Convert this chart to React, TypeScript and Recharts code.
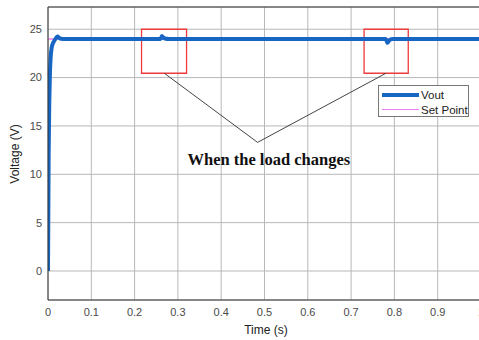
import React from 'react';
import {
  LineChart, Line, XAxis, YAxis, CartesianGrid, ReferenceArea, ReferenceLine, ReferenceDot, Label,
} from 'recharts';

// simulation output
const voutTime = [0, 0.0015, 0.003, 0.0045, 0.006, 0.0085, 0.011, 0.0145, 0.018, 0.022, 0.026, 0.03, 0.04, 0.1, 0.2, 0.26, 0.263, 0.266, 0.27, 0.28, 0.5, 0.78, 0.784, 0.788, 0.795, 0.9, 1.0];
const voutValues = [0, 12, 17.5, 20.5, 22, 23.1, 23.5, 23.8, 24.05, 24.25, 24.1, 24.02, 24, 24, 24, 24, 24.3, 24.15, 24.05, 24, 24, 24, 23.6, 23.85, 24, 24, 24];
const setPointTime = [0, 1];
const setPointValues = [24, 24];

const xTicks = [0, 0.1, 0.2, 0.3, 0.4, 0.5, 0.6, 0.7, 0.8, 0.9, 1];
const yTicks = [0, 5, 10, 15, 20, 25];

// where the load steps happen (boxes) and where the callout points to
const loadBoxes = [
  { x1: 0.216, x2: 0.32 },
  { x1: 0.73, x2: 0.832 },
];
const boxLow = 20.45;
const boxHigh = 25;
const calloutFrom = [0.2686, 0.7806];
const calloutTip = { x: 0.484, y: 13.3 };
const calloutText = { x: 0.51, y: 11.6, label: 'When the load changes' };

const voutData = voutTime.map((t, i) => ({ t, v: voutValues[i] }));
const setPointData = setPointTime.map((t, i) => ({ t, v: setPointValues[i] }));

const VOUT_COLOR = '#1766c4';
const SET_COLOR = '#f07cf0';
const tickStyle = { fontFamily: 'Liberation Sans, Arial, sans-serif', fontSize: 11, fill: '#4a4a4a' };

export default function App() {
  return (
    <div style={{ position: 'fixed', left: 0, top: 0, width: 479, height: 340, overflow: 'hidden', background: '#fff' }}>
      <LineChart width={500} height={340} margin={{ top: 7, right: 19, left: 0, bottom: 0 }}>
        <CartesianGrid stroke="#b8b8b8" />
        <XAxis
          dataKey="t"
          type="number"
          domain={[0, 1]}
          ticks={xTicks}
          tickFormatter={(v) => String(v)}
          tickLine={false}
          axisLine={{ stroke: '#333' }}
          tick={tickStyle}
          height={40}
          allowDataOverflow
        >
          <Label
            content={() => (
              <text x={266} y={334} textAnchor="middle" fontFamily="Liberation Sans, Arial, sans-serif" fontSize={12} fill="#222">
                Time (s)
              </text>
            )}
          />
        </XAxis>
        <YAxis
          dataKey="v"
          type="number"
          domain={[-3, 27.3]}
          ticks={yTicks}
          tickLine={false}
          tickMargin={0}
          axisLine={{ stroke: '#333' }}
          tick={tickStyle}
          width={48}
          allowDataOverflow
        >
          <Label
            content={() => (
              <text x={19} y={154} transform="rotate(-90 19 154)" textAnchor="middle" fontFamily="Liberation Sans, Arial, sans-serif" fontSize={12} fill="#222">
                Voltage (V)
              </text>
            )}
          />
        </YAxis>
        <ReferenceLine y={27.3} stroke="#333" ifOverflow="extendDomain" />
        <Line data={setPointData} dataKey="v" stroke={SET_COLOR} strokeWidth={1.5} dot={false} isAnimationActive={false} />
        <Line data={voutData} dataKey="v" type="monotone" stroke={VOUT_COLOR} strokeWidth={4} dot={false} isAnimationActive={false} />
        {loadBoxes.map((b, i) => (
          <ReferenceArea key={i} x1={b.x1} x2={b.x2} y1={boxLow} y2={boxHigh} fill="none" stroke="#ee3b3b" strokeWidth={1.3} />
        ))}
        {calloutFrom.map((x, i) => (
          <ReferenceLine
            key={i}
            segment={[{ x, y: boxLow }, { x: calloutTip.x, y: calloutTip.y }]}
            stroke="#444"
            strokeWidth={1}
          />
        ))}
        <ReferenceDot
          x={calloutText.x}
          y={calloutText.y}
          r={0}
          stroke="none"
          label={{
            value: calloutText.label,
            position: 'center',
            fontFamily: 'Liberation Serif, Times New Roman, serif',
            fontWeight: 'bold',
            fontSize: 16.5,
            fill: '#111',
          }}
        />
      </LineChart>
      <div
        style={{
          position: 'absolute', left: 378, top: 85, width: 89, height: 30, border: '1px solid #777', background: '#fff',
          fontFamily: 'Liberation Sans, Arial, sans-serif', fontSize: 11.5, color: '#222',
        }}
      >
        <div style={{ display: 'flex', alignItems: 'center', height: 15, marginTop: 1 }}>
          <span style={{ display: 'inline-block', width: 37, height: 4, background: VOUT_COLOR, marginLeft: 3, marginRight: 2 }} />
          Vout
        </div>
        <div style={{ display: 'flex', alignItems: 'center', height: 15 }}>
          <span style={{ display: 'inline-block', width: 37, height: 1.5, background: SET_COLOR, marginLeft: 3, marginRight: 2 }} />
          Set Point
        </div>
      </div>
    </div>
  );
}
